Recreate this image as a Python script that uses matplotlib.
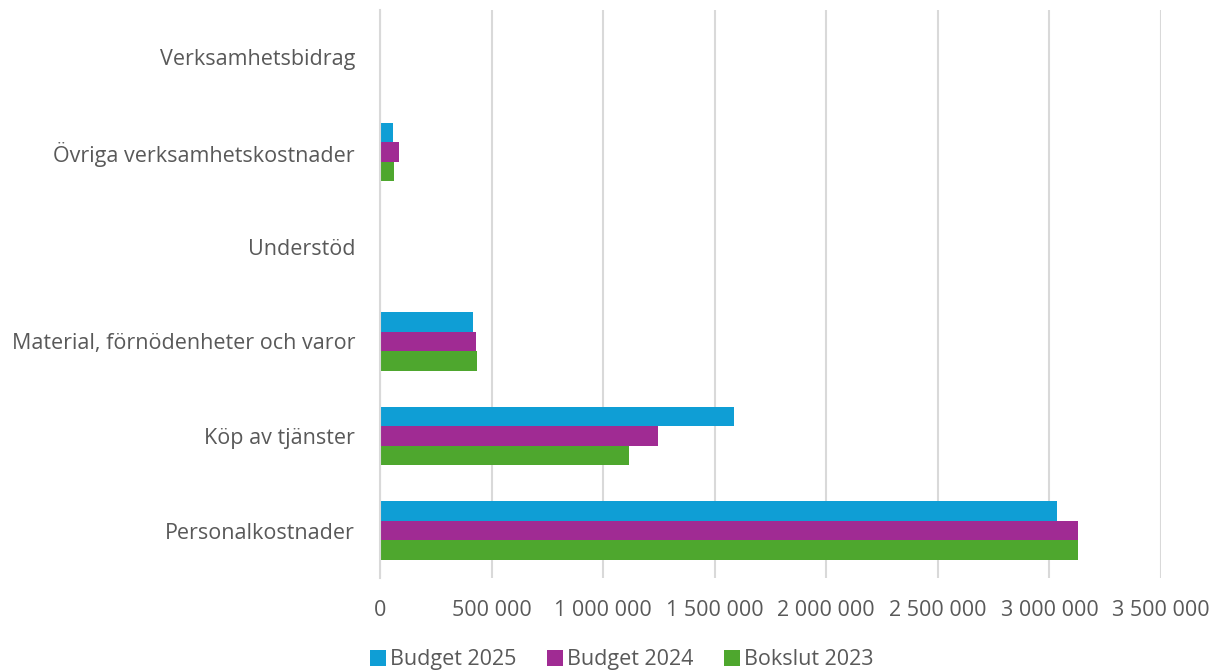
import numpy as np
import matplotlib.pyplot as plt

categories = ["Personalkostnader", "Köp av tjänster", "Material, förnödenheter och varor",
              "Understöd", "Övriga verksamhetskostnader", "Verksamhetsbidrag"]
budget_2025 = [3033000, 1585000, 418000, 0, 60000, 0]
budget_2024 = [3127000, 1246000, 429000, 0, 84000, 0]
bokslut_2023 = [3128000, 1118000, 436000, 0, 61000, 0]
series = [("Budget 2025", budget_2025, "#0F9ED5"),
          ("Budget 2024", budget_2024, "#A02B93"),
          ("Bokslut 2023", bokslut_2023, "#4EA72E")]
xticks = [0, 500000, 1000000, 1500000, 2000000, 2500000, 3000000, 3500000]

plt.rcParams['font.family'] = ['Open Sans', 'DejaVu Sans']
text_color = "#595959"

fig = plt.figure(figsize=(12.14, 6.71), dpi=100)
ax = fig.add_axes([380 / 1214, 1 - 578 / 671, (1161 - 380) / 1214, 568 / 671])

y = np.arange(len(categories))
h = 0.207
for i, (name, vals, color) in enumerate(series):
    ax.barh(y + (1 - i) * h, vals, height=h, color=color, label=name, zorder=3)

ax.set_xlim(0, 3500000)
ax.set_ylim(-0.5, len(categories) - 0.5)
ax.set_xticks(xticks)
ax.set_xticklabels(["0" if t == 0 else f"{t:,}".replace(",", " ") for t in xticks])
ax.set_yticks(y)
ax.set_yticklabels(categories)
ax.tick_params(axis='both', length=0, labelsize=15.5, colors=text_color)
ax.tick_params(axis='x', pad=16)
ax.tick_params(axis='y', pad=18)
ax.grid(axis='x', color="#D9D9D9", linewidth=1.5, zorder=0)
for s in ['top', 'right', 'bottom']:
    ax.spines[s].set_visible(False)
ax.spines['left'].set_color("#D9D9D9")
ax.spines['left'].set_linewidth(1.5)
ax.spines['left'].set_zorder(4)

leg = fig.legend(loc='lower center', bbox_to_anchor=(0.512, -0.028), ncol=3, frameon=False,
                 fontsize=15.5, handlelength=0.75, handleheight=0.75, handletextpad=0.2,
                 columnspacing=1.4)
for t in leg.get_texts():
    t.set_color(text_color)

fig.savefig("out.png", dpi=100)
